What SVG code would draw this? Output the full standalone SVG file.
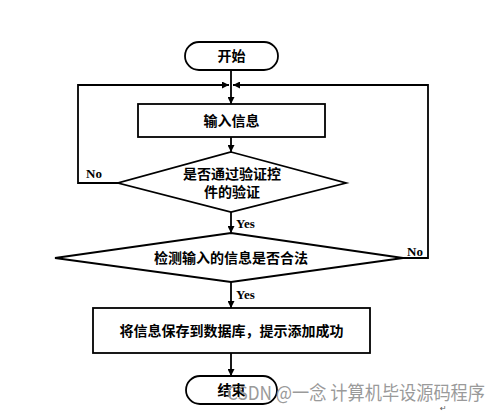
<svg xmlns="http://www.w3.org/2000/svg" width="500" height="413" viewBox="0 0 500 413">
<defs>
<marker id="arr" viewBox="0 0 10 10" refX="10" refY="5" markerWidth="7" markerHeight="7" markerUnits="userSpaceOnUse" orient="auto">
<path d="M0,0 L10,5 L0,10 z" fill="#000"/>
</marker>
<style>
.shape{fill:#fff;stroke:#000;stroke-width:1.8}
.ln{fill:none;stroke:#000;stroke-width:1.8;marker-end:url(#arr)}
.t{font-family:"Noto Sans CJK SC","Noto Sans",sans-serif;font-weight:bold;font-size:14px;text-anchor:middle;fill:#000}
.lab{font-family:"Liberation Serif",serif;font-weight:bold;font-size:13px;fill:#000}
.wm{font-family:"Noto Sans CJK SC","Liberation Sans",sans-serif;font-size:19px;fill:#9a9a9a}
</style>
</defs>
<rect width="500" height="413" fill="#fff"/>
<g id="connectors">
<line class="ln" x1="231" y1="70" x2="231" y2="104"/>
<polyline class="ln" points="118,183 78,183 78,85 229,85"/>
<polyline class="ln" points="403,258 428,258 428,85 233,85"/>
<line class="ln" x1="231" y1="137" x2="231" y2="152"/>
<line class="ln" x1="231" y1="212" x2="231" y2="233"/>
<line class="ln" x1="231" y1="282" x2="231" y2="308"/>
<line class="ln" x1="231" y1="353" x2="231" y2="376"/>
<text class="lab" x="86" y="178">No</text>
<text class="lab" x="407" y="256">No</text>
<text class="lab" x="236" y="228">Yes</text>
<text class="lab" x="236" y="299">Yes</text>
</g>
<g id="start">
<rect class="shape" x="185" y="42" width="93" height="28" rx="14" ry="14"/>
<text class="t" x="231.5" y="61">开始</text>
</g>
<g id="input">
<rect class="shape" x="138" y="104" width="187" height="33"/>
<text class="t" x="231.5" y="126">输入信息</text>
</g>
<g id="check1">
<polygon class="shape" points="231,152 346,183 231,212 118,183"/>
<text class="t" x="232" y="179">是否通过验证控</text>
<text class="t" x="232" y="197">件的验证</text>
</g>
<g id="check2">
<polygon class="shape" points="231,233 403,258 231,282 55,258"/>
<text class="t" x="231" y="263">检测输入的信息是否合法</text>
</g>
<g id="save">
<rect class="shape" x="93" y="308" width="277" height="45"/>
<text class="t" x="231.5" y="336">将信息保存到数据库，提示添加成功</text>
</g>
<g id="end">
<rect class="shape" x="186" y="376" width="91" height="28" rx="14" ry="14"/>
<text class="t" x="231.5" y="395">结束</text>
</g>
<text class="wm" x="227" y="400" textLength="258" lengthAdjust="spacingAndGlyphs">CSDN @一念 计算机毕设源码程序</text>
<text x="440" y="411" font-family="DejaVu Sans,sans-serif" font-size="8" fill="#555">↵</text>
</svg>
